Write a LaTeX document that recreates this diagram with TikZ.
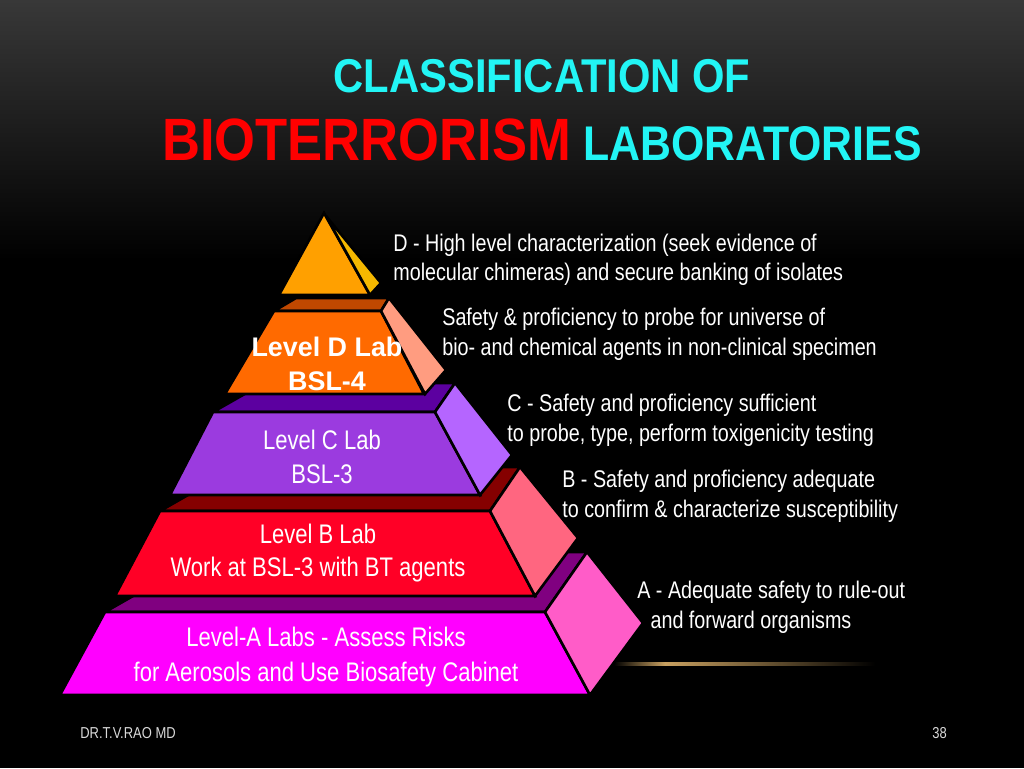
\documentclass[tikz,border=0pt]{standalone}
\usepackage{fontspec}
\setmainfont{Liberation Sans}
\newfontfamily\narrowfont[FakeStretch=0.82]{Liberation Sans}
\newfontfamily\titlefont[FakeStretch=0.88]{Liberation Sans}
\usepackage{xcolor}
\usepackage{tikz}

\definecolor{bgtop}{HTML}{383838}
\definecolor{titlecyan}{HTML}{22F5F5}
\definecolor{goldline}{HTML}{C8A060}
% tier colours: top face, front, side
\definecolor{apexfront}{HTML}{FFA000}
\definecolor{apexside}{HTML}{F5B800}
\definecolor{dtop}{HTML}{C04800}
\definecolor{dfront}{HTML}{FF6A00}
\definecolor{dside}{HTML}{FF9C80}
\definecolor{ctop}{HTML}{5C00A0}
\definecolor{cfront}{HTML}{9B3BDF}
\definecolor{cside}{HTML}{B565FF}
\definecolor{btop}{HTML}{850000}
\definecolor{bfront}{HTML}{FF0026}
\definecolor{bside}{HTML}{FF6680}
\definecolor{atop}{HTML}{800080}
\definecolor{afront}{HTML}{FF00FF}
\definecolor{aside}{HTML}{FF5CC8}

\begin{document}
\begin{tikzpicture}[
    x=0.02cm, y=-0.02cm,
    face/.style={draw=black, line width=1.5pt, line join=miter},
    tiertext/.style={text=white, align=center, inner sep=0,
        font=\narrowfont\fontsize{15.3}{19}\selectfont},
    desc/.style={text=white, align=left, anchor=west, inner sep=0,
        font=\narrowfont\fontsize{13.7}{16.8}\selectfont},
    footer/.style={text=white!85!black, inner sep=0, anchor=base west,
        font=\narrowfont\fontsize{9}{10}\selectfont}
]
\useasboundingbox (0,0) rectangle (1024,768);

% Background
\fill[black] (0,0) rectangle (1024,768);
\shade[top color=bgtop, bottom color=black] (0,0) rectangle (1024,260);
\shade[left color=black, right color=goldline] (614,662.5) rectangle (665,665.5);
\shade[left color=goldline, right color=black] (665,662.5) rectangle (875,665.5);

% Title
\node[text=titlecyan, inner sep=0, anchor=base,
    font=\titlefont\bfseries\fontsize{27}{30}\selectfont] (title1) at (542,92) {CLASSIFICATION OF};
\node[text=titlecyan, inner sep=0, anchor=base,
    font=\titlefont\bfseries\fontsize{27.7}{30}\selectfont] (title2) at (542,160)
    {{\color{red}\fontsize{34}{36}\selectfont BIOTERRORISM} LABORATORIES};

% Level A tier
\filldraw[face, fill=atop] (105,612) -- (210,552) -- (587,552) -- (545,612) -- cycle;
\filldraw[face, fill=afront] (105,612) -- (545,612) -- (590,695) -- (60,695) -- cycle;
\filldraw[face, fill=aside] (545,612) -- (587,552) -- (643,623) -- (590,695) -- cycle;

% Level B tier
\filldraw[face, fill=btop] (160,511) -- (237,467) -- (520,467) -- (490,511) -- cycle;
\filldraw[face, fill=bfront] (160,511) -- (490,511) -- (535,596) -- (115,596) -- cycle;
\filldraw[face, fill=bside] (490,511) -- (520,467) -- (578,538) -- (535,596) -- cycle;

% Level C tier
\filldraw[face, fill=ctop] (213,412) -- (264,383) -- (455,383) -- (435,412) -- cycle;
\filldraw[face, fill=cfront] (213,412) -- (435,412) -- (480,495) -- (170,495) -- cycle;
\filldraw[face, fill=cside] (435,412) -- (455,383) -- (512,455) -- (480,495) -- cycle;

% Level D tier
\filldraw[face, fill=dtop] (274,311) -- (296,298) -- (389,298) -- (381,311) -- cycle;
\filldraw[face, fill=dfront] (274,311) -- (381,311) -- (424,394) -- (225,394) -- cycle;
\filldraw[face, fill=dside] (381,311) -- (389,298) -- (446,370) -- (425,394) -- cycle;

% Apex
\filldraw[face, fill=apexfront] (324,213) -- (370,295) -- (279,295) -- cycle;
\filldraw[face, fill=apexside] (326,216) -- (381,283) -- (370,295) -- cycle;

% Tier labels
\node[tiertext, font=\bfseries\fontsize{15.3}{19.3}\selectfont] (labD) at (327,364) {Level D Lab\\BSL-4};
\node[tiertext] (labC) at (322,457) {Level C Lab\\BSL-3};
\node[tiertext] (labB) at (318,553) {Level B Lab\\Work at BSL-3 with BT agents};
\node[tiertext, font=\narrowfont\fontsize{15.3}{20.4}\selectfont] (labA) at (326,657) {Level-A Labs - Assess Risks\\for Aerosols and Use Biosafety Cabinet};

% Descriptions
\node[desc] (descD) at (393,260) {D - High level characterization (seek evidence of\\molecular chimeras) and secure banking of isolates};
\node[desc] (descSafety) at (442,334.5) {Safety \& proficiency to probe for universe of\\bio- and chemical agents in non-clinical specimen};
\node[desc] (descC) at (507,420.5) {C - Safety and proficiency sufficient\\to probe, type, perform toxigenicity testing};
\node[desc] (descB) at (562,496.5) {B - Safety and proficiency adequate\\to confirm \& characterize susceptibility};
\node[desc] (descA) at (637,607.5) {A - Adequate safety to rule-out\\\hspace*{0.55em}and forward organisms};

% Footer
\node[footer] (author) at (80,738) {DR.T.V.RAO MD};
\node[footer] (page) at (932,738) {38};
\end{tikzpicture}
\end{document}
